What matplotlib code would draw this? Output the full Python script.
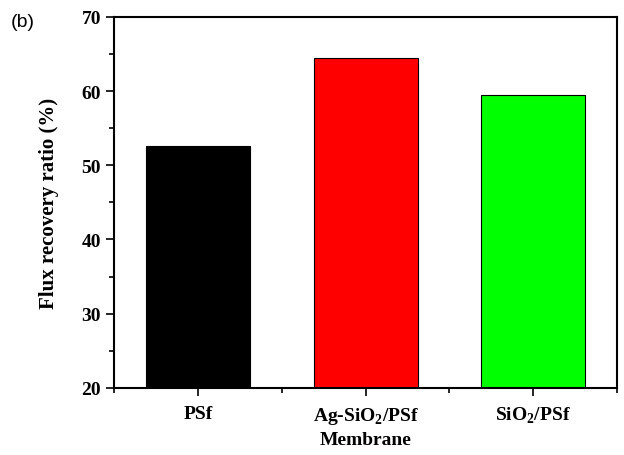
import matplotlib
matplotlib.use("Agg")
import matplotlib.pyplot as plt
from matplotlib.ticker import MultipleLocator, FixedLocator

# data
membranes = ["PSf", "Ag-SiO$_2$/PSf", "SiO$_2$/PSf"]
frr = [52.6, 64.4, 59.4]
bar_colors = ["#000000", "#ff0000", "#00ff00"]

plt.rcParams["font.family"] = "Liberation Serif"
plt.rcParams["font.weight"] = "bold"
plt.rcParams["mathtext.fontset"] = "custom"
plt.rcParams["mathtext.rm"] = "Liberation Serif:bold"

fig = plt.figure(figsize=(6.24, 4.56), dpi=100)
ax = fig.add_axes([0.183, 0.147, 0.806, 0.814])

pos = list(range(1, len(membranes) + 1))
ax.bar(pos, frr, width=0.62, color=bar_colors, edgecolor="black", linewidth=0.8)

ax.set_xlim(0.5, 3.5)
ax.set_ylim(20, 70)
ax.set_xticks(pos)
ax.set_xticklabels(membranes, fontsize=14, fontweight="bold")
ax.xaxis.set_minor_locator(FixedLocator([0.5, 1.5, 2.5, 3.5]))
ax.yaxis.set_major_locator(MultipleLocator(10))
ax.yaxis.set_minor_locator(MultipleLocator(5))
ax.tick_params(axis="both", which="major", direction="out", length=6, width=1.2, labelsize=14)
ax.tick_params(axis="x", which="major", pad=6)
ax.tick_params(axis="both", which="minor", direction="out", length=3.5, width=1.2)
for s in ax.spines.values():
    s.set_linewidth(1.5)

ax.set_ylabel("Flux recovery ratio (%)", fontsize=15, fontweight="bold", labelpad=16)
ax.set_xlabel("Membrane", fontsize=14, fontweight="bold", labelpad=4)
fig.text(0.018, 0.94, "(b)", fontsize=14, family="Liberation Sans", fontweight="normal")

fig.savefig("out.png", dpi=100)
